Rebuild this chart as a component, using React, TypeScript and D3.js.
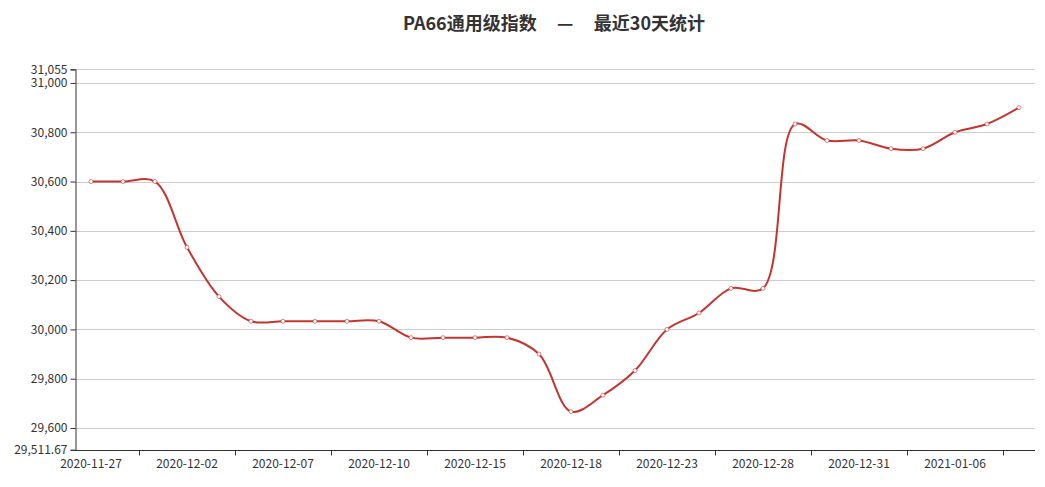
import { useEffect, useRef } from "react";
import * as d3 from "d3";

const dates = [
	"2020-11-27", "2020-11-30", "2020-12-01", "2020-12-02", "2020-12-03", "2020-12-04",
	"2020-12-07", "2020-12-08", "2020-12-09", "2020-12-10", "2020-12-11", "2020-12-14",
	"2020-12-15", "2020-12-16", "2020-12-17", "2020-12-18", "2020-12-21", "2020-12-22",
	"2020-12-23", "2020-12-24", "2020-12-25", "2020-12-28", "2020-12-29", "2020-12-30",
	"2020-12-31", "2021-01-04", "2021-01-05", "2021-01-06", "2021-01-07", "2021-01-08",
];

const values = [
	30600, 30600, 30600, 30333.33, 30133.33, 30033.33,
	30033.33, 30033.33, 30033.33, 30033.33, 29966.67, 29966.67,
	29966.67, 29966.67, 29900, 29666.67, 29733.33, 29833.33,
	30000, 30066.67, 30166.67, 30166.67, 30833.33, 30766.67,
	30766.67, 30733.33, 30733.33, 30800, 30833.33, 30900,
];

const yMin = 29511.67;
const yMax = 31055;
const yTicks = [29511.67, 29600, 29800, 30000, 30200, 30400, 30600, 30800, 31000, 31055];

const W = 1045;
const H = 487;
const LINE = "#c23531";

export default function App() {
	const ref = useRef<SVGSVGElement>(null);

	useEffect(() => {
		const svg = d3.select(ref.current);
		svg.selectAll("*").remove();

		const margin = { top: 69.4, right: 10, bottom: 37.2, left: 75 };
		const x = d3.scaleBand<string>().domain(dates).range([margin.left, W - margin.right]);
		const y = d3.scaleLinear().domain([yMin, yMax]).range([H - margin.bottom, margin.top]);
		const cx = (d: string) => (x(d) ?? 0) + x.bandwidth() / 2;
		const fmt = d3.format(",");
		const font = "'Noto Sans CJK SC', 'Noto Sans', sans-serif";

		// Title
		svg.append("text")
			.attr("x", 554)
			.attr("y", 30)
			.attr("text-anchor", "middle")
			.attr("font-family", font)
			.attr("font-size", 18)
			.attr("font-weight", "bold")
			.attr("fill", "#333")
			.style("white-space", "pre")
			.text("PA66通用级指数     —     最近30天统计");

		// Grid lines
		svg.append("g")
			.selectAll("line")
			.data(yTicks.slice(1))
			.enter()
			.append("line")
			.attr("x1", margin.left)
			.attr("x2", W - margin.right)
			.attr("y1", d => Math.round(y(d)) + 0.5)
			.attr("y2", d => Math.round(y(d)) + 0.5)
			.attr("stroke", "#ccc");

		// Y axis
		const yAxis = svg.append("g")
			.attr("transform", `translate(${margin.left + 0.5},0)`)
			.call(d3.axisLeft(y).tickValues(yTicks).tickFormat(d => fmt(d as number)).tickSize(5).tickPadding(3));
		yAxis.select(".domain").attr("stroke", "#333");
		yAxis.selectAll(".tick line").attr("stroke", "#333");
		yAxis.selectAll(".tick text")
			.attr("fill", "#333")
			.attr("font-size", 12)
			.attr("font-family", font);

		// X axis
		const xBase = Math.round(H - margin.bottom) + 0.5;
		svg.append("line")
			.attr("x1", margin.left)
			.attr("x2", W - margin.right)
			.attr("y1", xBase)
			.attr("y2", xBase)
			.attr("stroke", "#333");

		const tickIdx = d3.range(2, dates.length, 3);
		svg.append("g")
			.selectAll("line")
			.data(tickIdx)
			.enter()
			.append("line")
			.attr("x1", i => Math.round(x(dates[i]) ?? 0) + 0.5)
			.attr("x2", i => Math.round(x(dates[i]) ?? 0) + 0.5)
			.attr("y1", xBase)
			.attr("y2", xBase + 5)
			.attr("stroke", "#333");

		svg.append("g")
			.selectAll("text")
			.data(dates.filter((_, i) => i % 3 === 0))
			.enter()
			.append("text")
			.attr("x", d => cx(d))
			.attr("y", xBase + 8)
			.attr("dy", "0.8em")
			.attr("text-anchor", "middle")
			.attr("font-size", 12)
			.attr("font-family", font)
			.attr("fill", "#333")
			.text(d => d);

		// Smoothed line
		const line = d3.line<number>()
			.x((_, i) => cx(dates[i]))
			.y(d => y(d))
			.curve(d3.curveCatmullRom.alpha(0.5));

		svg.append("path")
			.datum(values)
			.attr("d", line)
			.attr("fill", "none")
			.attr("stroke", LINE)
			.attr("stroke-width", 2);

		// Point markers
		svg.append("g")
			.selectAll("circle")
			.data(values)
			.enter()
			.append("circle")
			.attr("cx", (_, i) => cx(dates[i]))
			.attr("cy", d => y(d))
			.attr("r", 2)
			.attr("fill", "#fff")
			.attr("stroke", LINE)
			.attr("stroke-opacity", 0.6)
			.attr("stroke-width", 1);
	}, []);

	return (
		<svg
			ref={ref}
			width={W}
			height={H}
			style={{ position: "absolute", left: 0, top: 0, background: "#fff" }}
		/>
	);
}
